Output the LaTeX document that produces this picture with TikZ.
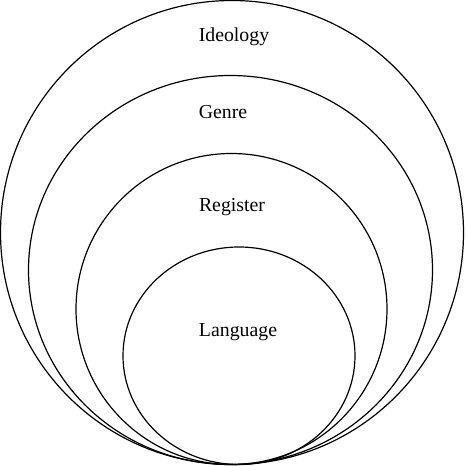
\documentclass[tikz,border=0pt]{standalone}
\usepackage{fontspec}
\setmainfont{Liberation Serif}
\usetikzlibrary{shapes.geometric}

\begin{document}
\begin{tikzpicture}[
  x=1pt, y=-1pt,
  font=\fontsize{19.8}{23}\selectfont,
  layer/.style={
    ellipse, draw=black, line width=1.2pt, inner sep=0pt
  },
  tag/.style={anchor=base, inner sep=0pt}
]
\useasboundingbox (0,0) rectangle (467,466);

% Nested layers, all touching at the bottom.
\node[layer, minimum width=463pt, minimum height=464pt]
  (ideology) at (232,232.5) {};
\node[layer, minimum width=404pt, minimum height=389pt]
  (genre) at (230.5,270) {};
\node[layer, minimum width=311pt, minimum height=311pt]
  (register) at (231.5,309) {};
\node[layer, minimum width=232pt, minimum height=217.5pt]
  (language) at (239,355.75) {};

% Layer names.
\node[tag] (ideologyText) at (234,41.5) {Ideology};
\node[tag] (genreText) at (223,118) {Genre};
\node[tag] (registerText) at (232,211.5) {Register};
\node[tag] (languageText) at (238,336) {Language};

\end{tikzpicture}
\end{document}
